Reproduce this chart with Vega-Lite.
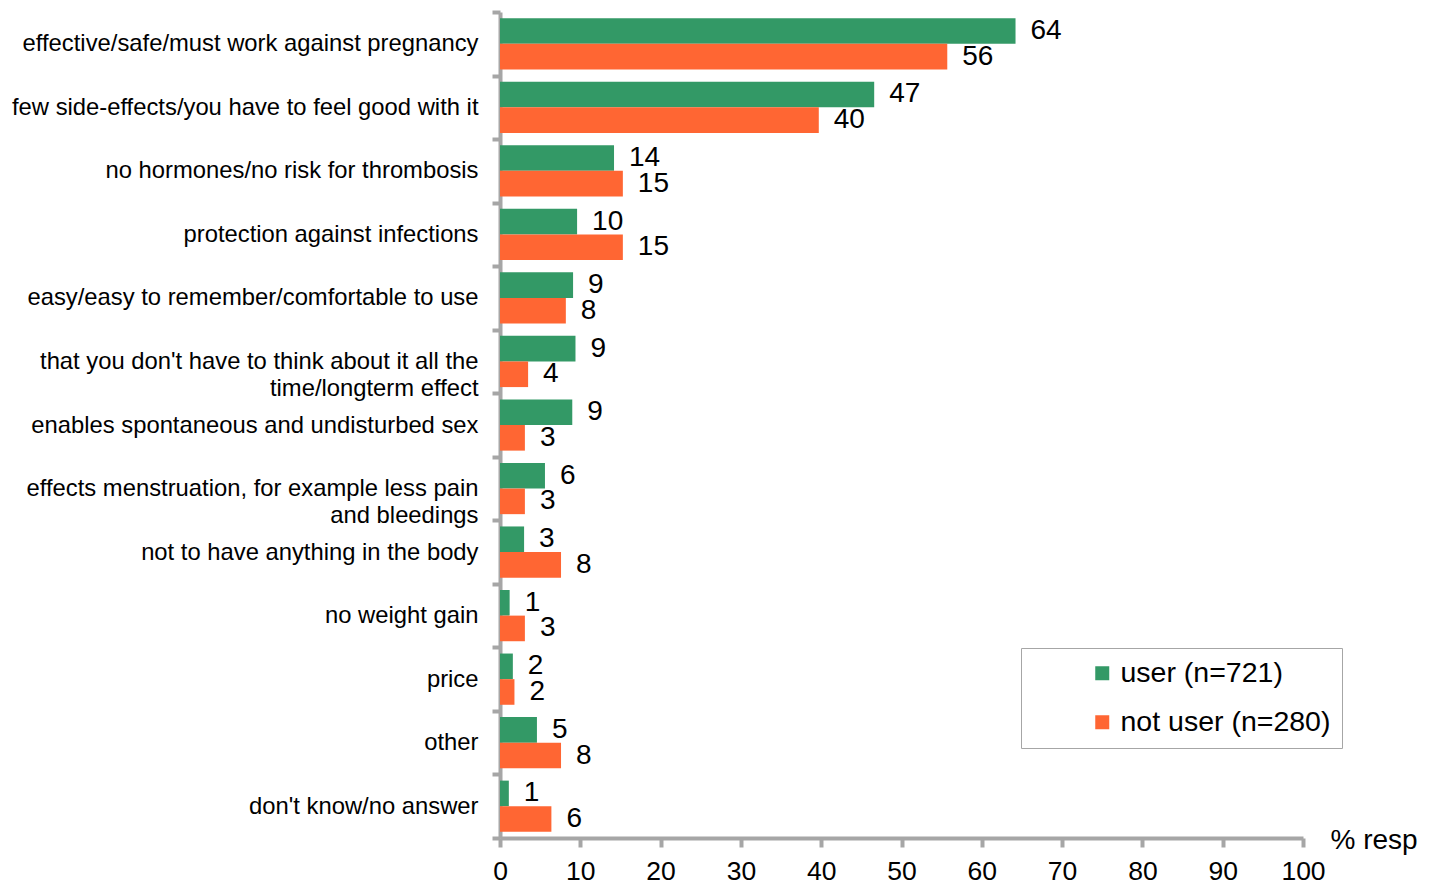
{
  "$schema": "https://vega.github.io/schema/vega-lite/v6.json",
  "width": 803,
  "height": 826,
  "autosize": {"type": "none"},
  "padding": {"left": 500, "top": 12, "right": 133, "bottom": 50},
  "background": "white",
  "config": {"font": "Liberation Sans", "view": {"stroke": null}},
  "data": {
    "values": [
      {"reason": "effective/safe/must work against pregnancy", "group": "user (n=721)", "value": 64.2},
      {"reason": "effective/safe/must work against pregnancy", "group": "not user (n=280)", "value": 55.7},
      {"reason": "few side-effects/you have to feel good with it", "group": "user (n=721)", "value": 46.6},
      {"reason": "few side-effects/you have to feel good with it", "group": "not user (n=280)", "value": 39.7},
      {"reason": "no hormones/no risk for thrombosis", "group": "user (n=721)", "value": 14.2},
      {"reason": "no hormones/no risk for thrombosis", "group": "not user (n=280)", "value": 15.3},
      {"reason": "protection against infections", "group": "user (n=721)", "value": 9.6},
      {"reason": "protection against infections", "group": "not user (n=280)", "value": 15.3},
      {"reason": "easy/easy to remember/comfortable to use", "group": "user (n=721)", "value": 9.1},
      {"reason": "easy/easy to remember/comfortable to use", "group": "not user (n=280)", "value": 8.2},
      {"reason": "that you don't have to think about it all the time/longterm effect", "group": "user (n=721)", "value": 9.4},
      {"reason": "that you don't have to think about it all the time/longterm effect", "group": "not user (n=280)", "value": 3.5},
      {"reason": "enables spontaneous and undisturbed sex", "group": "user (n=721)", "value": 9.0},
      {"reason": "enables spontaneous and undisturbed sex", "group": "not user (n=280)", "value": 3.1},
      {"reason": "effects menstruation, for example less pain and bleedings", "group": "user (n=721)", "value": 5.6},
      {"reason": "effects menstruation, for example less pain and bleedings", "group": "not user (n=280)", "value": 3.1},
      {"reason": "not to have anything in the body", "group": "user (n=721)", "value": 3.0},
      {"reason": "not to have anything in the body", "group": "not user (n=280)", "value": 7.6},
      {"reason": "no weight gain", "group": "user (n=721)", "value": 1.2},
      {"reason": "no weight gain", "group": "not user (n=280)", "value": 3.1},
      {"reason": "price", "group": "user (n=721)", "value": 1.6},
      {"reason": "price", "group": "not user (n=280)", "value": 1.8},
      {"reason": "other", "group": "user (n=721)", "value": 4.6},
      {"reason": "other", "group": "not user (n=280)", "value": 7.6},
      {"reason": "don't know/no answer", "group": "user (n=721)", "value": 1.1},
      {"reason": "don't know/no answer", "group": "not user (n=280)", "value": 6.4}
    ]
  },
  "encoding": {
    "y": {
      "field": "reason",
      "type": "nominal",
      "sort": null,
      "scale": {"paddingInner": 0, "paddingOuter": 0},
      "axis": {
        "title": null,
        "domainColor": "#A6A6A6",
        "domainWidth": 4,
        "tickColor": "#A6A6A6",
        "tickWidth": 4,
        "tickSize": 8,
        "tickBand": "extent",
        "labelFontSize": 23.8,
        "labelColor": "#000000",
        "labelPadding": 14,
        "labelLimit": 600,
        "labelLineHeight": 27,
        "grid": false,
        "labelExpr": "datum.value == \"that you don't have to think about it all the time/longterm effect\" ? [\"that you don't have to think about it all the\", \"time/longterm effect\"] : datum.value == \"effects menstruation, for example less pain and bleedings\" ? [\"effects menstruation, for example less pain\", \"and bleedings\"] : datum.value"
      }
    },
    "yOffset": {
      "field": "group",
      "type": "nominal",
      "sort": ["user (n=721)", "not user (n=280)"],
      "scale": {"paddingOuter": 0.24, "paddingInner": 0}
    },
    "x": {
      "field": "value",
      "type": "quantitative",
      "scale": {"domain": [0, 100], "nice": false},
      "axis": {
        "values": [0, 10, 20, 30, 40, 50, 60, 70, 80, 90, 100],
        "grid": false,
        "domainColor": "#A6A6A6",
        "domainWidth": 4,
        "tickColor": "#A6A6A6",
        "tickWidth": 4,
        "tickSize": 9,
        "labelFontSize": 26.5,
        "labelColor": "#000000",
        "labelPadding": 11,
        "labelFlush": false,
        "title": "% resp",
        "titleFontSize": 28,
        "titleFontWeight": "normal",
        "titleColor": "#000000",
        "titleX": 830,
        "titleY": 2,
        "titleAlign": "left",
        "titleBaseline": "middle"
      }
    }
  },
  "layer": [
    {
      "mark": {"type": "bar"},
      "encoding": {
        "color": {
          "field": "group",
          "type": "nominal",
          "scale": {"domain": ["user (n=721)", "not user (n=280)"], "range": ["#339966", "#FF6633"]},
          "legend": {
            "title": null,
            "orient": "none",
            "legendX": 521,
            "legendY": 636,
            "strokeColor": "#A6A6A6",
            "padding": 11,
            "symbolType": "square",
            "symbolSize": 196,
            "symbolStrokeWidth": 0,
            "symbolOffset": 56,
            "labelFontSize": 28.5,
            "labelColor": "#000000",
            "labelLimit": 600,
            "rowPadding": 20
          }
        }
      }
    },
    {
      "mark": {"type": "text", "align": "left", "baseline": "middle", "dx": 15, "fontSize": 28, "color": "#000000"},
      "encoding": {"text": {"field": "value", "type": "quantitative", "format": ".0f"}}
    }
  ]
}
